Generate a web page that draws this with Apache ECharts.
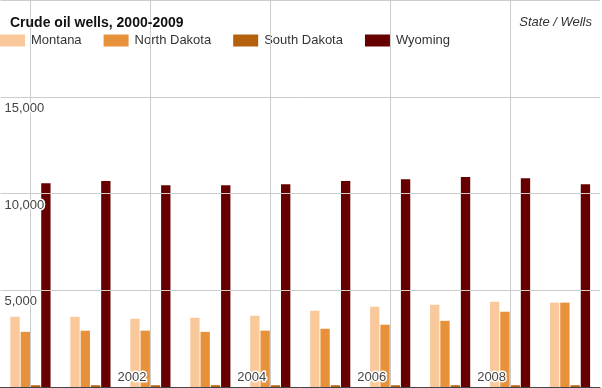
<!DOCTYPE html>
<html>
<head>
<meta charset="utf-8">
<script src="https://cdn.jsdelivr.net/npm/echarts@6/dist/echarts.min.js"></script>
<style>
html,body{margin:0;padding:0;background:#fff;}
#c{width:602px;height:388px;}
</style>
</head>
<body>
<div id="c"></div>
<script>
var years = ['2000','2001','2002','2003','2004','2005','2006','2007','2008','2009'];
var montana = [3630, 3630, 3530, 3580, 3680, 3940, 4150, 4250, 4410, 4360];
var northDakota = [2850, 2910, 2910, 2850, 2910, 3010, 3220, 3420, 3890, 4360];
var southDakota = [90, 90, 90, 90, 90, 90, 90, 90, 90, 90];
var wyoming = [10530, 10640, 10430, 10430, 10480, 10640, 10740, 10850, 10790, 10480];
var gridYears = ['2000','2002','2004','2006','2008'];
var yTicks = [0, 5000, 10000, 15000, 20000];

var FONT = '"Liberation Sans", Arial, sans-serif';
var chart = echarts.init(document.getElementById('c'), null, {renderer: 'canvas'});

var colors = ['#f9c99b', '#e8913b', '#b4600c', '#660000'];
var names = ['Montana', 'North Dakota', 'South Dakota', 'Wyoming'];
var datas = [montana, northDakota, southDakota, wyoming];

var series = datas.map(function (d, i) {
  return {
    name: names[i],
    type: 'bar',
    data: d,
    barGap: '10%',
    barCategoryGap: '33%',
    itemStyle: {color: colors[i]},
    emphasis: {disabled: true},
    z: 2
  };
});
series.push({
  name: '_grid',
  type: 'line',
  data: years.map(function () { return null; }),
  symbol: 'none',
  silent: true,
  z: 0,
  markLine: {
    silent: true,
    symbol: ['none', 'none'],
    label: {show: false},
    animation: false,
    lineStyle: {color: '#cccccc', width: 1, type: 'solid'},
    data: gridYears.map(function (y) { return {xAxis: y}; })
  }
});

chart.setOption({
  animation: false,
  backgroundColor: '#fff',
  textStyle: {fontFamily: FONT},
  title: [{
    text: 'Crude oil wells, 2000-2009',
    left: 10, top: 16, padding: 0,
    textStyle: {fontFamily: FONT, fontSize: 14, fontWeight: 'bold', color: '#111'}
  }, {
    text: 'State / Wells',
    right: 10, top: 16, padding: 0,
    textStyle: {fontFamily: FONT, fontSize: 13, fontStyle: 'italic', fontWeight: 'normal', color: '#333'}
  }],
  legend: {
    left: 0, top: 34, padding: 0,
    itemWidth: 25, itemHeight: 12,
    itemGap: 22,
    icon: 'rect',
    selectedMode: false,
    textStyle: {fontFamily: FONT, fontSize: 13, color: '#333', padding: [0, 0, 0, 1]},
    data: names
  },
  grid: {left: 0, right: 2, top: 0, bottom: 1, containLabel: false},
  xAxis: {
    type: 'category',
    data: years,
    axisLine: {show: true, lineStyle: {color: '#444', width: 1}},
    axisTick: {show: false},
    splitLine: {show: false},
    z: 5,
    axisLabel: {
      inside: true,
      margin: 3,
      align: 'right',
      verticalAlign: 'bottom',
      padding: [0, 4, 0, 0],
      fontFamily: FONT,
      fontSize: 13,
      color: '#444',
      textBorderColor: '#fff',
      textBorderWidth: 3,
      interval: function (idx) { return idx > 0 && idx % 2 === 0; }
    }
  },
  yAxis: {
    type: 'value',
    min: yTicks[0],
    max: yTicks[yTicks.length - 1],
    interval: 5000,
    axisLine: {show: false},
    axisTick: {show: false},
    splitLine: {show: true, lineStyle: {color: '#cccccc', width: 1}},
    z: 5,
    axisLabel: {
      inside: true,
      margin: 4,
      align: 'left',
      verticalAlign: 'top',
      padding: [5, 0, 0, 0],
      showMinLabel: false,
      showMaxLabel: false,
      fontFamily: FONT,
      fontSize: 13,
      color: '#444',
      textBorderColor: '#fff',
      textBorderWidth: 3,
      formatter: function (v) { return v.toLocaleString('en-US'); }
    }
  },
  series: series
});
</script>
</body>
</html>
